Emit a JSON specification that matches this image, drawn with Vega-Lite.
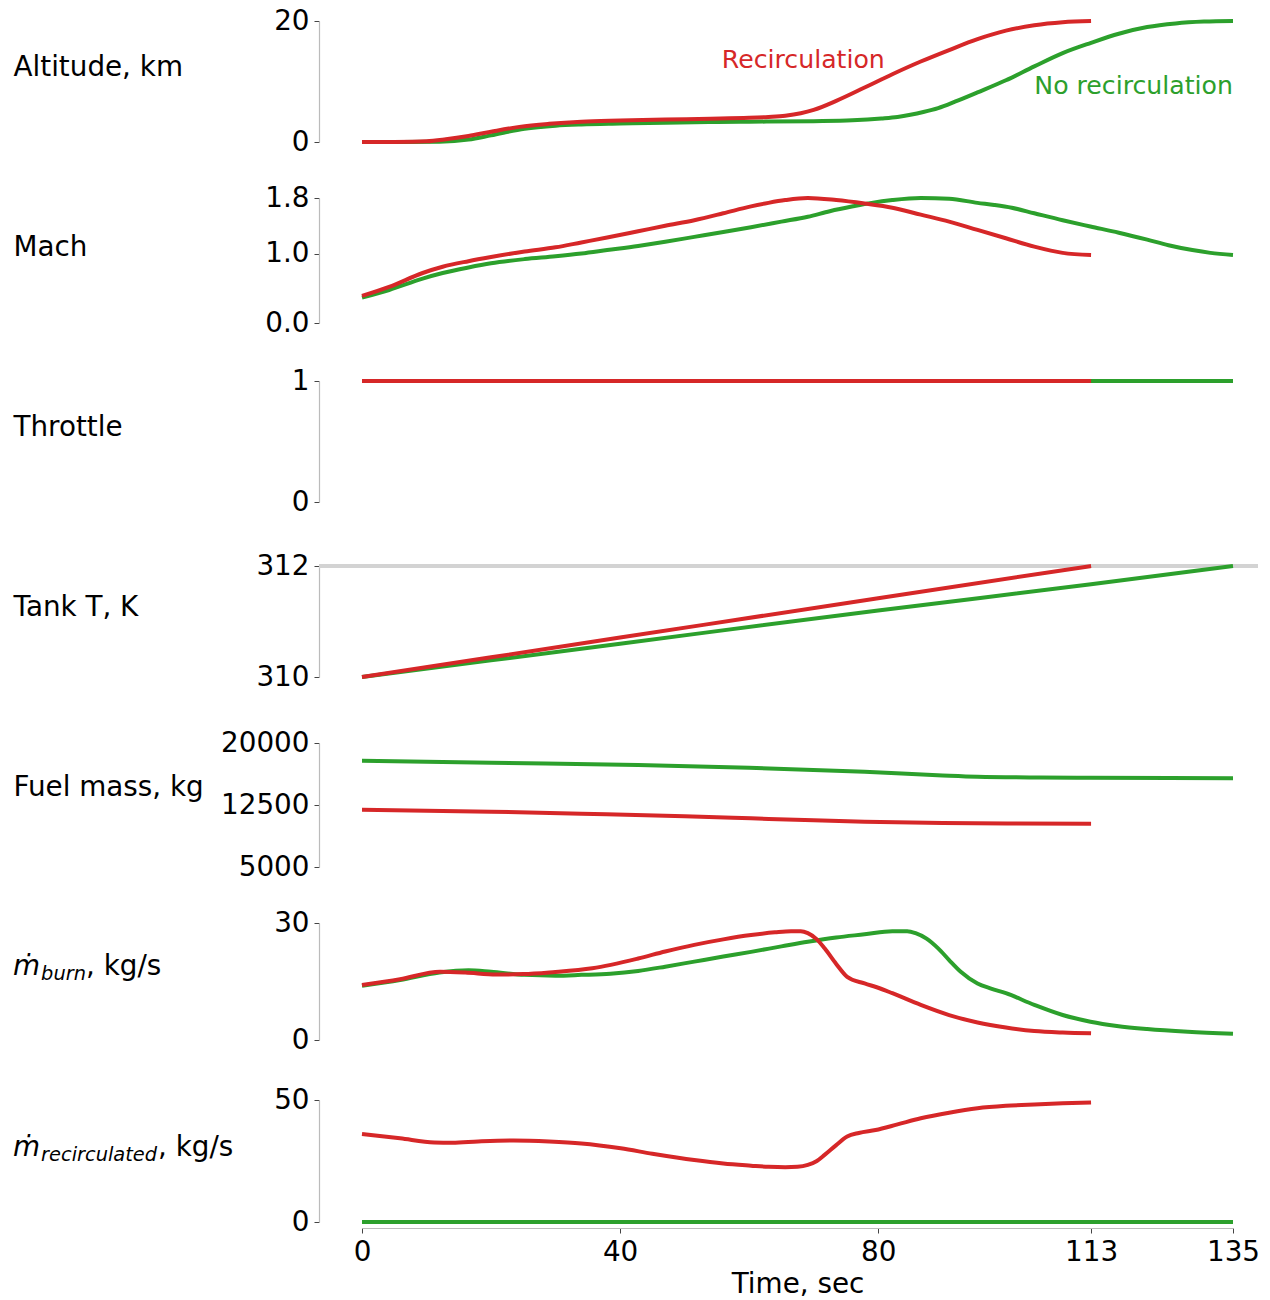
{
  "$schema": "https://vega.github.io/schema/vega-lite/v6.json",
  "padding": {"left": 13, "top": 7, "right": 0, "bottom": 0},
  "bounds": "flush",
  "spacing": 42,
  "resolve": {"scale": {"x": "independent", "y": "independent"}},
  "datasets": {
    "altitude": [
      {"t": 0, "series": "No recirculation", "value": 0},
      {"t": 6, "series": "No recirculation", "value": 0},
      {"t": 12, "series": "No recirculation", "value": 0.05},
      {"t": 16.5, "series": "No recirculation", "value": 0.4},
      {"t": 20, "series": "No recirculation", "value": 1.1},
      {"t": 25.2, "series": "No recirculation", "value": 2.2},
      {"t": 30, "series": "No recirculation", "value": 2.7},
      {"t": 34, "series": "No recirculation", "value": 2.9},
      {"t": 40, "series": "No recirculation", "value": 3.05},
      {"t": 47, "series": "No recirculation", "value": 3.2},
      {"t": 55, "series": "No recirculation", "value": 3.3},
      {"t": 60, "series": "No recirculation", "value": 3.35},
      {"t": 70, "series": "No recirculation", "value": 3.45},
      {"t": 76, "series": "No recirculation", "value": 3.6},
      {"t": 80.5, "series": "No recirculation", "value": 3.9},
      {"t": 83, "series": "No recirculation", "value": 4.15},
      {"t": 85, "series": "No recirculation", "value": 4.5},
      {"t": 87, "series": "No recirculation", "value": 4.95},
      {"t": 89.3, "series": "No recirculation", "value": 5.6},
      {"t": 92, "series": "No recirculation", "value": 6.7},
      {"t": 95.4, "series": "No recirculation", "value": 8.2},
      {"t": 99.8, "series": "No recirculation", "value": 10.2},
      {"t": 104.2, "series": "No recirculation", "value": 12.5},
      {"t": 108.6, "series": "No recirculation", "value": 14.7},
      {"t": 113, "series": "No recirculation", "value": 16.4},
      {"t": 117.3, "series": "No recirculation", "value": 17.9},
      {"t": 121.7, "series": "No recirculation", "value": 19.0},
      {"t": 126.1, "series": "No recirculation", "value": 19.6},
      {"t": 130.5, "series": "No recirculation", "value": 19.9},
      {"t": 135, "series": "No recirculation", "value": 20.0},
      {"t": 0, "series": "Recirculation", "value": 0},
      {"t": 5, "series": "Recirculation", "value": 0.02},
      {"t": 10, "series": "Recirculation", "value": 0.12},
      {"t": 13, "series": "Recirculation", "value": 0.45},
      {"t": 16.5, "series": "Recirculation", "value": 1.0},
      {"t": 20, "series": "Recirculation", "value": 1.7},
      {"t": 24.4, "series": "Recirculation", "value": 2.5},
      {"t": 29, "series": "Recirculation", "value": 3.0},
      {"t": 34, "series": "Recirculation", "value": 3.36},
      {"t": 40, "series": "Recirculation", "value": 3.55},
      {"t": 47, "series": "Recirculation", "value": 3.72},
      {"t": 54, "series": "Recirculation", "value": 3.85},
      {"t": 60, "series": "Recirculation", "value": 4.0},
      {"t": 63, "series": "Recirculation", "value": 4.15},
      {"t": 65.6, "series": "Recirculation", "value": 4.35},
      {"t": 68, "series": "Recirculation", "value": 4.75},
      {"t": 70, "series": "Recirculation", "value": 5.3},
      {"t": 73.5, "series": "Recirculation", "value": 6.8},
      {"t": 77.9, "series": "Recirculation", "value": 9.0},
      {"t": 82.2, "series": "Recirculation", "value": 11.2},
      {"t": 86.6, "series": "Recirculation", "value": 13.3},
      {"t": 91, "series": "Recirculation", "value": 15.2},
      {"t": 95.4, "series": "Recirculation", "value": 17.0},
      {"t": 99.8, "series": "Recirculation", "value": 18.4},
      {"t": 104.2, "series": "Recirculation", "value": 19.3},
      {"t": 108.6, "series": "Recirculation", "value": 19.8},
      {"t": 113, "series": "Recirculation", "value": 20.0}
    ],
    "mach": [
      {"t": 0, "series": "No recirculation", "value": 0.365},
      {"t": 4.2, "series": "No recirculation", "value": 0.475},
      {"t": 9.4, "series": "No recirculation", "value": 0.64},
      {"t": 12.5, "series": "No recirculation", "value": 0.72},
      {"t": 16.5, "series": "No recirculation", "value": 0.80},
      {"t": 20, "series": "No recirculation", "value": 0.86},
      {"t": 25.2, "series": "No recirculation", "value": 0.92},
      {"t": 30, "series": "No recirculation", "value": 0.96},
      {"t": 34, "series": "No recirculation", "value": 1.00},
      {"t": 38, "series": "No recirculation", "value": 1.05},
      {"t": 42.8, "series": "No recirculation", "value": 1.11},
      {"t": 47, "series": "No recirculation", "value": 1.17},
      {"t": 51.5, "series": "No recirculation", "value": 1.24},
      {"t": 56, "series": "No recirculation", "value": 1.31},
      {"t": 60.3, "series": "No recirculation", "value": 1.38},
      {"t": 65, "series": "No recirculation", "value": 1.46},
      {"t": 69.1, "series": "No recirculation", "value": 1.53},
      {"t": 72.5, "series": "No recirculation", "value": 1.61},
      {"t": 76.1, "series": "No recirculation", "value": 1.68},
      {"t": 79, "series": "No recirculation", "value": 1.73},
      {"t": 82.2, "series": "No recirculation", "value": 1.77},
      {"t": 86.6, "series": "No recirculation", "value": 1.80},
      {"t": 91, "series": "No recirculation", "value": 1.79},
      {"t": 95.4, "series": "No recirculation", "value": 1.73},
      {"t": 98, "series": "No recirculation", "value": 1.70},
      {"t": 100.7, "series": "No recirculation", "value": 1.66},
      {"t": 104.2, "series": "No recirculation", "value": 1.58},
      {"t": 108.6, "series": "No recirculation", "value": 1.48},
      {"t": 112.9, "series": "No recirculation", "value": 1.39},
      {"t": 117.3, "series": "No recirculation", "value": 1.30},
      {"t": 121.7, "series": "No recirculation", "value": 1.20},
      {"t": 125, "series": "No recirculation", "value": 1.12},
      {"t": 128.7, "series": "No recirculation", "value": 1.05},
      {"t": 131.5, "series": "No recirculation", "value": 1.01},
      {"t": 135, "series": "No recirculation", "value": 0.98},
      {"t": 0, "series": "Recirculation", "value": 0.39},
      {"t": 4.2, "series": "Recirculation", "value": 0.52},
      {"t": 9.4, "series": "Recirculation", "value": 0.72},
      {"t": 12.5, "series": "Recirculation", "value": 0.81},
      {"t": 16.5, "series": "Recirculation", "value": 0.89},
      {"t": 20, "series": "Recirculation", "value": 0.95},
      {"t": 25.2, "series": "Recirculation", "value": 1.03},
      {"t": 30, "series": "Recirculation", "value": 1.09},
      {"t": 34, "series": "Recirculation", "value": 1.16},
      {"t": 38, "series": "Recirculation", "value": 1.23},
      {"t": 42.8, "series": "Recirculation", "value": 1.32},
      {"t": 47, "series": "Recirculation", "value": 1.40},
      {"t": 51.5, "series": "Recirculation", "value": 1.48},
      {"t": 56, "series": "Recirculation", "value": 1.58},
      {"t": 60.3, "series": "Recirculation", "value": 1.68},
      {"t": 63, "series": "Recirculation", "value": 1.73},
      {"t": 65.6, "series": "Recirculation", "value": 1.77},
      {"t": 69.1, "series": "Recirculation", "value": 1.80},
      {"t": 73.5, "series": "Recirculation", "value": 1.77},
      {"t": 77.9, "series": "Recirculation", "value": 1.72},
      {"t": 82.2, "series": "Recirculation", "value": 1.66},
      {"t": 86.6, "series": "Recirculation", "value": 1.56},
      {"t": 91, "series": "Recirculation", "value": 1.46},
      {"t": 95.4, "series": "Recirculation", "value": 1.34},
      {"t": 99.8, "series": "Recirculation", "value": 1.22},
      {"t": 104.2, "series": "Recirculation", "value": 1.10},
      {"t": 108.6, "series": "Recirculation", "value": 1.01},
      {"t": 113, "series": "Recirculation", "value": 0.98}
    ],
    "throttle": [
      {"t": 0, "series": "No recirculation", "value": 1},
      {"t": 135, "series": "No recirculation", "value": 1},
      {"t": 0, "series": "Recirculation", "value": 1},
      {"t": 113, "series": "Recirculation", "value": 1}
    ],
    "tank": [
      {"t": 0, "series": "No recirculation", "value": 310},
      {"t": 40, "series": "No recirculation", "value": 310.6},
      {"t": 80, "series": "No recirculation", "value": 311.2},
      {"t": 113, "series": "No recirculation", "value": 311.67},
      {"t": 135, "series": "No recirculation", "value": 312},
      {"t": 0, "series": "Recirculation", "value": 310},
      {"t": 40, "series": "Recirculation", "value": 310.71},
      {"t": 80, "series": "Recirculation", "value": 311.42},
      {"t": 113, "series": "Recirculation", "value": 312}
    ],
    "fuel": [
      {"t": 0, "series": "No recirculation", "value": 17850},
      {"t": 20, "series": "No recirculation", "value": 17600},
      {"t": 42.8, "series": "No recirculation", "value": 17340},
      {"t": 60, "series": "No recirculation", "value": 17000},
      {"t": 77.9, "series": "No recirculation", "value": 16530},
      {"t": 90, "series": "No recirculation", "value": 16080},
      {"t": 95.4, "series": "No recirculation", "value": 15925},
      {"t": 105, "series": "No recirculation", "value": 15830},
      {"t": 112.9, "series": "No recirculation", "value": 15800},
      {"t": 135, "series": "No recirculation", "value": 15740},
      {"t": 0, "series": "Recirculation", "value": 11920},
      {"t": 20, "series": "Recirculation", "value": 11690},
      {"t": 34, "series": "Recirculation", "value": 11450},
      {"t": 50, "series": "Recirculation", "value": 11150},
      {"t": 60.3, "series": "Recirculation", "value": 10890},
      {"t": 70, "series": "Recirculation", "value": 10650},
      {"t": 77.9, "series": "Recirculation", "value": 10480},
      {"t": 90, "series": "Recirculation", "value": 10320},
      {"t": 100, "series": "Recirculation", "value": 10260},
      {"t": 113, "series": "Recirculation", "value": 10230}
    ],
    "burn": [
      {"t": 0, "series": "No recirculation", "value": 13.9},
      {"t": 5.9, "series": "No recirculation", "value": 15.4},
      {"t": 12, "series": "No recirculation", "value": 17.3},
      {"t": 16.5, "series": "No recirculation", "value": 17.9},
      {"t": 20, "series": "No recirculation", "value": 17.5},
      {"t": 25.2, "series": "No recirculation", "value": 16.7},
      {"t": 30, "series": "No recirculation", "value": 16.5},
      {"t": 34, "series": "No recirculation", "value": 16.7},
      {"t": 38.5, "series": "No recirculation", "value": 17.0},
      {"t": 42.8, "series": "No recirculation", "value": 17.7},
      {"t": 47, "series": "No recirculation", "value": 18.8},
      {"t": 51.5, "series": "No recirculation", "value": 20.1},
      {"t": 56, "series": "No recirculation", "value": 21.4},
      {"t": 60.3, "series": "No recirculation", "value": 22.6},
      {"t": 65, "series": "No recirculation", "value": 24.0},
      {"t": 69.1, "series": "No recirculation", "value": 25.2},
      {"t": 73.5, "series": "No recirculation", "value": 26.3},
      {"t": 77.9, "series": "No recirculation", "value": 27.1},
      {"t": 82.2, "series": "No recirculation", "value": 27.9},
      {"t": 84.5, "series": "No recirculation", "value": 27.9},
      {"t": 85.8, "series": "No recirculation", "value": 27.4},
      {"t": 87.5, "series": "No recirculation", "value": 26.0},
      {"t": 89.3, "series": "No recirculation", "value": 23.5},
      {"t": 91, "series": "No recirculation", "value": 20.5},
      {"t": 92.8, "series": "No recirculation", "value": 17.5},
      {"t": 95.4, "series": "No recirculation", "value": 14.5},
      {"t": 97.5, "series": "No recirculation", "value": 13.2},
      {"t": 99.8, "series": "No recirculation", "value": 12.0},
      {"t": 104.2, "series": "No recirculation", "value": 9.0},
      {"t": 108.6, "series": "No recirculation", "value": 6.4},
      {"t": 112.9, "series": "No recirculation", "value": 4.7},
      {"t": 117, "series": "No recirculation", "value": 3.6},
      {"t": 121.7, "series": "No recirculation", "value": 2.8},
      {"t": 128, "series": "No recirculation", "value": 2.1},
      {"t": 135, "series": "No recirculation", "value": 1.6},
      {"t": 0, "series": "Recirculation", "value": 14.1},
      {"t": 5.9, "series": "Recirculation", "value": 15.6},
      {"t": 12.1, "series": "Recirculation", "value": 17.5},
      {"t": 16, "series": "Recirculation", "value": 17.3},
      {"t": 20.8, "series": "Recirculation", "value": 16.8},
      {"t": 25, "series": "Recirculation", "value": 16.9},
      {"t": 29.6, "series": "Recirculation", "value": 17.4},
      {"t": 35.7, "series": "Recirculation", "value": 18.4},
      {"t": 42.8, "series": "Recirculation", "value": 20.9},
      {"t": 47, "series": "Recirculation", "value": 22.7},
      {"t": 51.5, "series": "Recirculation", "value": 24.4},
      {"t": 56, "series": "Recirculation", "value": 25.8},
      {"t": 60.3, "series": "Recirculation", "value": 26.9},
      {"t": 64, "series": "Recirculation", "value": 27.6},
      {"t": 66.5, "series": "Recirculation", "value": 27.9},
      {"t": 68, "series": "Recirculation", "value": 27.9},
      {"t": 69.1, "series": "Recirculation", "value": 27.4},
      {"t": 70.5, "series": "Recirculation", "value": 25.8},
      {"t": 71.7, "series": "Recirculation", "value": 23.5},
      {"t": 73.5, "series": "Recirculation", "value": 19.5},
      {"t": 75.2, "series": "Recirculation", "value": 16.2},
      {"t": 77.9, "series": "Recirculation", "value": 14.5},
      {"t": 80, "series": "Recirculation", "value": 13.4},
      {"t": 82.2, "series": "Recirculation", "value": 12.0},
      {"t": 86.6, "series": "Recirculation", "value": 9.0},
      {"t": 91, "series": "Recirculation", "value": 6.4},
      {"t": 95.4, "series": "Recirculation", "value": 4.5},
      {"t": 99.8, "series": "Recirculation", "value": 3.2},
      {"t": 104.2, "series": "Recirculation", "value": 2.3},
      {"t": 108.6, "series": "Recirculation", "value": 1.9},
      {"t": 113, "series": "Recirculation", "value": 1.7}
    ],
    "recirculated": [
      {"t": 0, "series": "No recirculation", "value": 0},
      {"t": 135, "series": "No recirculation", "value": 0},
      {"t": 0, "series": "Recirculation", "value": 36.1},
      {"t": 5.9, "series": "Recirculation", "value": 34.3},
      {"t": 11.2, "series": "Recirculation", "value": 32.6},
      {"t": 14, "series": "Recirculation", "value": 32.5},
      {"t": 18, "series": "Recirculation", "value": 33.0},
      {"t": 23.5, "series": "Recirculation", "value": 33.4},
      {"t": 29, "series": "Recirculation", "value": 33.0},
      {"t": 34, "series": "Recirculation", "value": 32.2},
      {"t": 40.1, "series": "Recirculation", "value": 30.2},
      {"t": 45, "series": "Recirculation", "value": 28.0},
      {"t": 51.5, "series": "Recirculation", "value": 25.4},
      {"t": 56, "series": "Recirculation", "value": 24.0},
      {"t": 60.3, "series": "Recirculation", "value": 23.1},
      {"t": 63, "series": "Recirculation", "value": 22.6},
      {"t": 65.6, "series": "Recirculation", "value": 22.4},
      {"t": 67.5, "series": "Recirculation", "value": 22.6},
      {"t": 69.1, "series": "Recirculation", "value": 23.4},
      {"t": 70.5, "series": "Recirculation", "value": 25.0},
      {"t": 71.7, "series": "Recirculation", "value": 27.5},
      {"t": 73.5, "series": "Recirculation", "value": 31.5},
      {"t": 75.2, "series": "Recirculation", "value": 35.0},
      {"t": 77, "series": "Recirculation", "value": 36.5},
      {"t": 79.6, "series": "Recirculation", "value": 37.7},
      {"t": 83, "series": "Recirculation", "value": 40.0},
      {"t": 86.6, "series": "Recirculation", "value": 42.5},
      {"t": 91, "series": "Recirculation", "value": 44.8},
      {"t": 95.4, "series": "Recirculation", "value": 46.6},
      {"t": 99.8, "series": "Recirculation", "value": 47.6},
      {"t": 104.2, "series": "Recirculation", "value": 48.2},
      {"t": 108.6, "series": "Recirculation", "value": 48.7},
      {"t": 113, "series": "Recirculation", "value": 49.0}
    ]
  },
  "vconcat": [
    {
      "width": 939, "height": 138,
      "layer": [
        {
          "data": {"name": "altitude"},
          "mark": {"type": "line", "strokeWidth": 4, "interpolate": "monotone"},
          "encoding": {
            "x": {"field": "t", "type": "quantitative", "scale": {"domain": [0, 135], "range": [43, 914], "nice": false}, "axis": null},
            "y": {"field": "value", "type": "quantitative", "scale": {"domain": [0, 20], "range": [132, 11], "nice": false},
                  "axis": {"values": [0, 20], "format": "d", "title": "Altitude, km"}},
            "color": {"field": "series", "type": "nominal", "legend": null,
                      "scale": {"domain": ["No recirculation", "Recirculation"], "range": ["#2ca02c", "#d62728"]}}
          }
        },
        {
          "data": {"values": [{}]},
          "mark": {"type": "text", "text": "Recirculation", "align": "center", "baseline": "alphabetic", "fontSize": 25.2, "color": "#d62728"},
          "encoding": {
            "x": {"datum": 68.4, "type": "quantitative", "scale": {"domain": [0, 135], "range": [43, 914], "nice": false}, "axis": null},
            "y": {"datum": 12.2, "type": "quantitative", "scale": {"domain": [0, 20], "range": [132, 11], "nice": false},
                  "axis": {"values": [0, 20], "format": "d", "title": "Altitude, km"}}
          }
        },
        {
          "data": {"values": [{}]},
          "mark": {"type": "text", "text": "No recirculation", "align": "right", "baseline": "alphabetic", "fontSize": 25.2, "color": "#2ca02c"},
          "encoding": {
            "x": {"datum": 135, "type": "quantitative", "scale": {"domain": [0, 135], "range": [43, 914], "nice": false}, "axis": null},
            "y": {"datum": 8.0, "type": "quantitative", "scale": {"domain": [0, 20], "range": [132, 11], "nice": false},
                  "axis": {"values": [0, 20], "format": "d", "title": "Altitude, km"}}
          }
        }
      ]
    },
    {
      "width": 939, "height": 138,
      "data": {"name": "mach"},
      "mark": {"type": "line", "strokeWidth": 4, "interpolate": "monotone"},
      "encoding": {
        "x": {"field": "t", "type": "quantitative", "scale": {"domain": [0, 135], "range": [43, 914], "nice": false}, "axis": null},
        "y": {"field": "value", "type": "quantitative", "scale": {"domain": [0, 1.8], "range": [133, 8], "nice": false},
              "axis": {"values": [0, 1, 1.8], "format": ".1f", "title": "Mach"}},
        "color": {"field": "series", "type": "nominal", "legend": null,
                  "scale": {"domain": ["No recirculation", "Recirculation"], "range": ["#2ca02c", "#d62728"]}}
      }
    },
    {
      "width": 939, "height": 138,
      "data": {"name": "throttle"},
      "mark": {"type": "line", "strokeWidth": 4},
      "encoding": {
        "x": {"field": "t", "type": "quantitative", "scale": {"domain": [0, 135], "range": [43, 914], "nice": false}, "axis": null},
        "y": {"field": "value", "type": "quantitative", "scale": {"domain": [0, 1], "range": [132, 11], "nice": false},
              "axis": {"values": [0, 1], "format": "d", "title": "Throttle"}},
        "color": {"field": "series", "type": "nominal", "legend": null,
                  "scale": {"domain": ["No recirculation", "Recirculation"], "range": ["#2ca02c", "#d62728"]}}
      }
    },
    {
      "width": 939, "height": 138,
      "layer": [
        {
          "data": {"values": [{}]},
          "mark": {"type": "rule", "color": "#d3d3d3", "strokeWidth": 4},
          "encoding": {
            "y": {"datum": 312, "type": "quantitative", "scale": {"domain": [310, 312], "range": [127, 16], "nice": false},
                  "axis": {"values": [310, 312], "format": "d", "title": "Tank T, K"}}
          }
        },
        {
          "data": {"name": "tank"},
          "mark": {"type": "line", "strokeWidth": 4, "interpolate": "monotone"},
          "encoding": {
            "x": {"field": "t", "type": "quantitative", "scale": {"domain": [0, 135], "range": [43, 914], "nice": false}, "axis": null},
            "y": {"field": "value", "type": "quantitative", "scale": {"domain": [310, 312], "range": [127, 16], "nice": false},
                  "axis": {"values": [310, 312], "format": "d", "title": "Tank T, K"}},
            "color": {"field": "series", "type": "nominal", "legend": null,
                      "scale": {"domain": ["No recirculation", "Recirculation"], "range": ["#2ca02c", "#d62728"]}}
          }
        }
      ]
    },
    {
      "width": 939, "height": 138,
      "data": {"name": "fuel"},
      "mark": {"type": "line", "strokeWidth": 4, "interpolate": "monotone"},
      "encoding": {
        "x": {"field": "t", "type": "quantitative", "scale": {"domain": [0, 135], "range": [43, 914], "nice": false}, "axis": null},
        "y": {"field": "value", "type": "quantitative", "scale": {"domain": [5000, 20000], "range": [137, 13], "nice": false},
              "axis": {"values": [5000, 12500, 20000], "format": "d", "title": "Fuel mass, kg"}},
        "color": {"field": "series", "type": "nominal", "legend": null,
                  "scale": {"domain": ["No recirculation", "Recirculation"], "range": ["#2ca02c", "#d62728"]}}
      }
    },
    {
      "width": 939, "height": 138,
      "layer": [
        {
          "data": {"name": "burn"},
          "mark": {"type": "line", "strokeWidth": 4, "interpolate": "monotone"},
          "encoding": {
            "x": {"field": "t", "type": "quantitative", "scale": {"domain": [0, 135], "range": [43, 914], "nice": false}, "axis": null},
            "y": {"field": "value", "type": "quantitative", "scale": {"domain": [0, 30], "range": [130, 13], "nice": false},
                  "axis": {"values": [0, 30], "format": "d", "title": null}},
            "color": {"field": "series", "type": "nominal", "legend": null,
                      "scale": {"domain": ["No recirculation", "Recirculation"], "range": ["#2ca02c", "#d62728"]}}
          }
        },
        {
          "data": {"values": [{}]},
          "mark": {"type": "text", "text": "ṁ", "align": "left", "baseline": "alphabetic", "fontSize": 27.8, "fontStyle": "italic", "color": "#000"},
          "encoding": {
            "x": {"datum": -54.08, "type": "quantitative", "scale": {"domain": [0, 135], "range": [43, 914], "nice": false}, "axis": null},
            "y": {"datum": 16.54, "type": "quantitative", "scale": {"domain": [0, 30], "range": [130, 13], "nice": false},
                  "axis": {"values": [0, 30], "format": "d", "title": null}}
          }
        },
        {
          "data": {"values": [{}]},
          "mark": {"type": "text", "text": "burn", "align": "left", "baseline": "alphabetic", "fontSize": 19.4, "fontStyle": "italic", "color": "#000", "dx": 28, "dy": 5},
          "encoding": {
            "x": {"datum": -54.08, "type": "quantitative", "scale": {"domain": [0, 135], "range": [43, 914], "nice": false}, "axis": null},
            "y": {"datum": 16.54, "type": "quantitative", "scale": {"domain": [0, 30], "range": [130, 13], "nice": false},
                  "axis": {"values": [0, 30], "format": "d", "title": null}}
          }
        },
        {
          "data": {"values": [{}]},
          "mark": {"type": "text", "text": ", kg/s", "align": "left", "baseline": "alphabetic", "fontSize": 27.8, "color": "#000", "dx": 73},
          "encoding": {
            "x": {"datum": -54.08, "type": "quantitative", "scale": {"domain": [0, 135], "range": [43, 914], "nice": false}, "axis": null},
            "y": {"datum": 16.54, "type": "quantitative", "scale": {"domain": [0, 30], "range": [130, 13], "nice": false},
                  "axis": {"values": [0, 30], "format": "d", "title": null}}
          }
        }
      ]
    },
    {
      "width": 939, "height": 138,
      "layer": [
        {
          "data": {"name": "recirculated"},
          "mark": {"type": "line", "strokeWidth": 4, "interpolate": "monotone"},
          "encoding": {
            "x": {"field": "t", "type": "quantitative", "scale": {"domain": [0, 135], "range": [43, 914], "nice": false},
                  "axis": {"values": [0, 40, 80, 113, 135], "format": "d", "title": "Time, sec", "titlePadding": 5}},
            "y": {"field": "value", "type": "quantitative", "scale": {"domain": [0, 50], "range": [132, 10], "nice": false},
                  "axis": {"values": [0, 50], "format": "d", "title": null}},
            "color": {"field": "series", "type": "nominal", "legend": null,
                      "scale": {"domain": ["No recirculation", "Recirculation"], "range": ["#2ca02c", "#d62728"]}}
          }
        },
        {
          "data": {"values": [{}]},
          "mark": {"type": "text", "text": "ṁ", "align": "left", "baseline": "alphabetic", "fontSize": 27.8, "fontStyle": "italic", "color": "#000"},
          "encoding": {
            "x": {"datum": -54.08, "type": "quantitative", "scale": {"domain": [0, 135], "range": [43, 914], "nice": false},
                  "axis": {"values": [0, 40, 80, 113, 135], "format": "d", "title": "Time, sec", "titlePadding": 5}},
            "y": {"datum": 27.25, "type": "quantitative", "scale": {"domain": [0, 50], "range": [132, 10], "nice": false},
                  "axis": {"values": [0, 50], "format": "d", "title": null}}
          }
        },
        {
          "data": {"values": [{}]},
          "mark": {"type": "text", "text": "recirculated", "align": "left", "baseline": "alphabetic", "fontSize": 19.4, "fontStyle": "italic", "color": "#000", "dx": 28, "dy": 5},
          "encoding": {
            "x": {"datum": -54.08, "type": "quantitative", "scale": {"domain": [0, 135], "range": [43, 914], "nice": false},
                  "axis": {"values": [0, 40, 80, 113, 135], "format": "d", "title": "Time, sec", "titlePadding": 5}},
            "y": {"datum": 27.25, "type": "quantitative", "scale": {"domain": [0, 50], "range": [132, 10], "nice": false},
                  "axis": {"values": [0, 50], "format": "d", "title": null}}
          }
        },
        {
          "data": {"values": [{}]},
          "mark": {"type": "text", "text": ", kg/s", "align": "left", "baseline": "alphabetic", "fontSize": 27.8, "color": "#000", "dx": 145},
          "encoding": {
            "x": {"datum": -54.08, "type": "quantitative", "scale": {"domain": [0, 135], "range": [43, 914], "nice": false},
                  "axis": {"values": [0, 40, 80, 113, 135], "format": "d", "title": "Time, sec", "titlePadding": 5}},
            "y": {"datum": 27.25, "type": "quantitative", "scale": {"domain": [0, 50], "range": [132, 10], "nice": false},
                  "axis": {"values": [0, 50], "format": "d", "title": null}}
          }
        }
      ]
    }
  ],
  "config": {
    "font": "DejaVu Sans",
    "view": {"stroke": null},
    "text": {"font": "DejaVu Sans"},
    "axis": {
      "grid": false,
      "labelFont": "DejaVu Sans",
      "labelFontSize": 27.8,
      "labelColor": "#000000",
      "labelFlush": false,
      "labelOverlap": false,
      "labelPadding": 5,
      "domainColor": "#bbbbbb",
      "domainWidth": 1.2,
      "tickColor": "#444444",
      "tickSize": 5,
      "tickWidth": 1,
      "titleFont": "DejaVu Sans",
      "titleFontSize": 27.8,
      "titleFontWeight": "normal",
      "titleColor": "#000000"
    },
    "axisY": {
      "titleAngle": 0,
      "titleAlign": "left",
      "titleBaseline": "alphabetic",
      "titleX": -306,
      "titleY": 65.5
    }
  }
}
